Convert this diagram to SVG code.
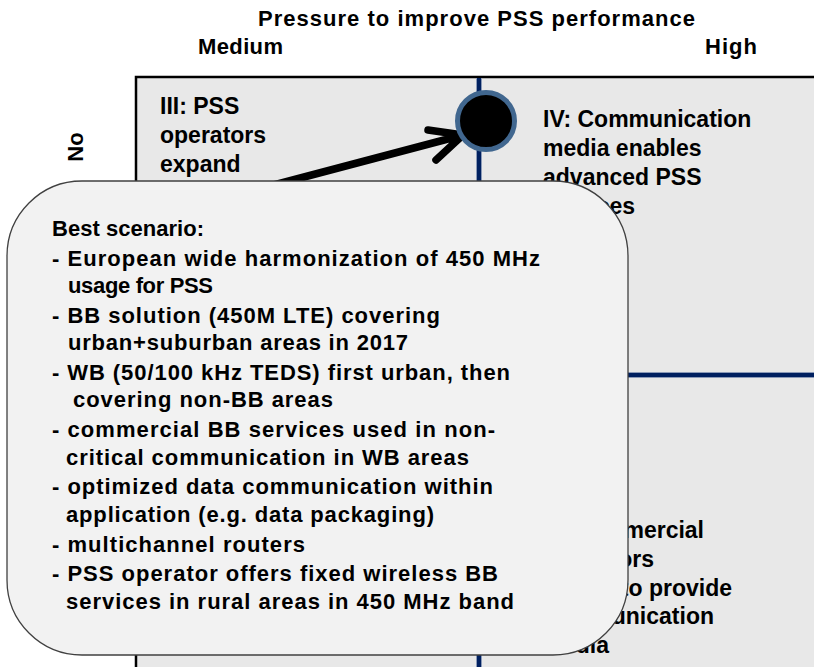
<svg xmlns="http://www.w3.org/2000/svg" width="814" height="667" viewBox="0 0 814 667">
<style>
text{font-family:"Liberation Sans",Arial,sans-serif;font-weight:bold;font-size:22px;fill:#000}
.q{font-size:23px}
.e{text-anchor:end}
.ax{stroke:#002060;stroke-width:4;fill:none}
.axe{stroke:#8c9bb8;stroke-width:6;fill:none}
</style>
<rect width="814" height="667" fill="#fff"/>
<g id="axis-labels">
<text x="258" y="26" textLength="437" lengthAdjust="spacing">Pressure to improve PSS performance</text>
<text x="198" y="54" textLength="85" lengthAdjust="spacing">Medium</text>
<text x="705" y="54" textLength="52" lengthAdjust="spacing">High</text>
<text transform="translate(83,147) rotate(-90)" text-anchor="middle">No</text>
</g>
<g id="matrix">
<rect x="136" y="77" width="700" height="620" fill="#e8e8e8" stroke="#000" stroke-width="2.5"/>
<line class="axe" x1="479" y1="78" x2="479" y2="667"/>
<line class="ax" x1="479" y1="78" x2="479" y2="667"/>
<line class="axe" x1="600" y1="375" x2="814" y2="375"/>
<line class="ax" x1="600" y1="375" x2="814" y2="375"/>
</g>
<g id="q3">
<text class="q" x="160" y="114">III: PSS</text>
<text class="q" x="160" y="143">operators</text>
<text class="q" x="160" y="172">expand</text>
</g>
<g id="q4">
<text class="q" x="543" y="127">IV: Communication</text>
<text class="q" x="543" y="156">media enables</text>
<text class="q" x="543" y="185">advanced PSS</text>
<text class="q" x="543" y="214">services</text>
</g>
<g id="q2">
<text class="q e" x="704" y="538">II: Commercial</text>
<text class="q e" x="654" y="567">operators</text>
<text class="q e" x="732" y="596">need to provide</text>
<text class="q e" x="714" y="624">communication</text>
<text class="q e" x="609" y="653">media</text>
</g>
<g id="connectors">
<path d="M270 186 L463 135 M428 130 L463 135 L436 160" fill="none" stroke="#000" stroke-width="7.5" stroke-linecap="round" stroke-linejoin="round"/>
</g>
<g id="target">
<circle cx="486" cy="121" r="28.5" fill="#000" stroke="#41678f" stroke-width="5"/>
</g>
<g id="callout">
<rect x="7" y="181" width="621" height="474" rx="75" ry="75" fill="#f2f2f2" stroke="#404040" stroke-width="1.3"/>
<text x="52" y="236" textLength="152" lengthAdjust="spacing">Best scenario:</text>
<text x="52" y="266" textLength="488" lengthAdjust="spacing">- European wide harmonization of 450 MHz</text>
<text x="68" y="293" textLength="145" lengthAdjust="spacing">usage for PSS</text>
<text x="52" y="323" textLength="388" lengthAdjust="spacing">- BB solution (450M LTE) covering</text>
<text x="68" y="350" textLength="340" lengthAdjust="spacing">urban+suburban areas in 2017</text>
<text x="52" y="380" textLength="458" lengthAdjust="spacing">- WB (50/100 kHz TEDS) first urban, then</text>
<text x="73" y="407" textLength="260" lengthAdjust="spacing">covering non-BB areas</text>
<text x="52" y="437" textLength="443" lengthAdjust="spacing">- commercial BB services used in non-</text>
<text x="66" y="465" textLength="403" lengthAdjust="spacing">critical communication in WB areas</text>
<text x="52" y="494" textLength="441" lengthAdjust="spacing">- optimized data communication within</text>
<text x="66" y="522" textLength="368" lengthAdjust="spacing">application (e.g. data packaging)</text>
<text x="52" y="552" textLength="253" lengthAdjust="spacing">- multichannel routers</text>
<text x="52" y="581" textLength="446" lengthAdjust="spacing">- PSS operator offers fixed wireless BB</text>
<text x="66" y="609" textLength="448" lengthAdjust="spacing">services in rural areas in 450 MHz band</text>
</g>
</svg>
